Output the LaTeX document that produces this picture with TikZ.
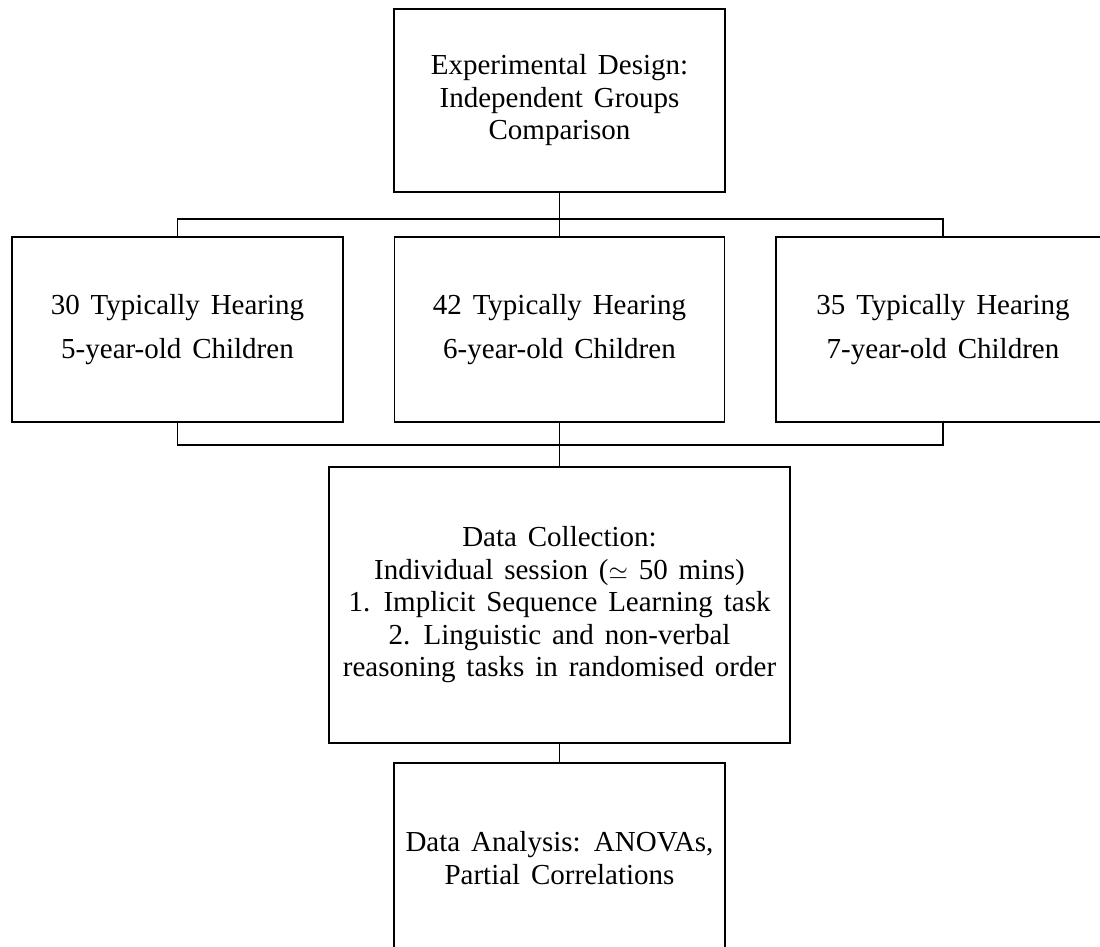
\documentclass[tikz,border=0pt]{standalone}
\usepackage{fontspec}
\setmainfont{Liberation Serif}[WordSpace=1.5]
\begin{document}
\begin{tikzpicture}[x=1pt,y=-1pt,
  box/.style={draw=black, line width=1.8pt, align=center, inner sep=0pt,
    font=\fontsize{29}{32.5}\selectfont},
  groupbox/.style={box, font=\fontsize{29}{44}\selectfont},
  link/.style={draw=black, line width=1.8pt}]
\useasboundingbox (0,0) rectangle (1100,947);
\clip (0,0) rectangle (1100,947);

% design
\node[box, minimum width=331pt, minimum height=183pt] (top) at (559.5,100.5)
  {Experimental Design:\\Independent Groups\\Comparison};

% participant groups
\node[groupbox, minimum width=331pt, minimum height=185pt] (g5) at (177.5,329.5)
  {30 Typically Hearing\\5-year-old Children};
\node[groupbox, minimum width=330pt, minimum height=185pt] (g6) at (559.5,329.5)
  {42 Typically Hearing\\6-year-old Children};
\node[groupbox, minimum width=334pt, minimum height=185pt] (g7) at (943,329.5)
  {35 Typically Hearing\\7-year-old Children};

% procedure
\node[box, minimum width=461pt, minimum height=276pt] (dc) at (559.5,605)
  {Data Collection:\\Individual session ($\simeq$ 50 mins)\\1. Implicit Sequence Learning task\\2. Linguistic and non-verbal\\reasoning tasks in randomised order};
\node[box, minimum width=331pt, minimum height=190pt] (da) at (559.5,858)
  {Data Analysis: ANOVAs,\\Partial Correlations};

% branching connectors
\coordinate (busA) at (559.5,219);
\coordinate (busB) at (559.5,445);
\draw[link] (top.south) -- (busA);
\draw[link] (g5.north) -- (g5.north |- busA) -- (g7.north |- busA) -- (g7.north);
\draw[link] (busA) -- (g6.north);
\draw[link] (g5.south) -- (g5.south |- busB) -- (g7.south |- busB) -- (g7.south);
\draw[link] (g6.south) -- (dc.north);
\draw[link] (dc.south) -- (da.north);
\end{tikzpicture}
\end{document}
